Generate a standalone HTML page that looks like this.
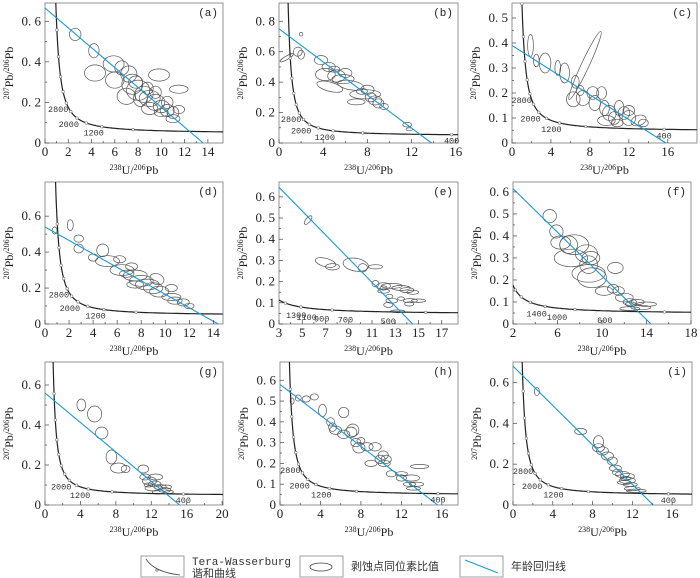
<!DOCTYPE html>
<html><head><meta charset="utf-8"><style>
body{margin:0;background:#fff}
svg{display:block;font-family:"Liberation Serif",serif}
</style></head><body>
<svg id="fig" width="700" height="578" viewBox="0 0 700 578" xmlns="http://www.w3.org/2000/svg">
<g id="panels"></g>
<g font-family="Liberation Mono, Noto Sans CJK SC, monospace" font-size="11" fill="#333">
  <g>
    <rect x="141" y="556" width="43" height="21" fill="none" stroke="#888" stroke-width="0.8"/>
    <path d="M146 559 Q154 572 180 575" fill="none" stroke="#444" stroke-width="0.8"/>
    <circle cx="157" cy="570" r="1.2" fill="none" stroke="#444" stroke-width="0.6"/>
    <text x="192" y="565">Tera-Wasserburg</text>
    <text x="192" y="577" font-family="Noto Sans CJK SC, sans-serif">谐和曲线</text>
  </g>
  <g>
    <rect x="300" y="556" width="43" height="21" fill="none" stroke="#888" stroke-width="0.8"/>
    <ellipse cx="321" cy="567" rx="11" ry="4" fill="none" stroke="#444" stroke-width="0.8"/>
    <text x="351" y="570" font-family="Noto Sans CJK SC, sans-serif">剥蚀点同位素比值</text>
  </g>
  <g>
    <rect x="460" y="556" width="43" height="21" fill="none" stroke="#888" stroke-width="0.8"/>
    <line x1="465" y1="560" x2="498" y2="573" stroke="#1a9ad6" stroke-width="1"/>
    <text x="511" y="570" font-family="Noto Sans CJK SC, sans-serif">年龄回归线</text>
  </g>
</g>
</svg>
<script>
// ---------- data ----------
const ellA=[[2.6,0.535,0.5,0.03,0],[4.2,0.455,0.45,0.035,0],[4.3,0.345,0.9,0.04,0],[5.9,0.39,0.9,0.04,0],[6,0.31,0.8,0.04,0],[6.6,0.37,0.6,0.035,0],[7.2,0.34,0.7,0.04,0],[7.5,0.29,0.9,0.05,0],[8,0.26,1,0.05,0],[8.5,0.24,0.8,0.04,0],[9,0.22,0.9,0.04,0],[9.5,0.2,0.8,0.04,0],[10,0.18,0.7,0.03,0],[10.5,0.16,0.6,0.03,0],[11,0.15,0.5,0.03,0],[11,0.12,0.6,0.02,0],[9.8,0.335,0.9,0.03,0],[11.5,0.265,0.8,0.02,0],[7,0.23,0.8,0.04,0],[8.2,0.22,0.6,0.04,0],[9,0.17,0.7,0.03,0],[10.5,0.2,0.5,0.03,0],[8.8,0.27,0.5,0.03,0],[11.5,0.165,0.5,0.02,0],[7.8,0.3,0.6,0.03,0],[9.5,0.25,0.5,0.03,0],[10,0.15,0.6,0.02,0]];
const ellB=[[0.7,0.56,0.15,0.05,60],[2.0,0.715,0.15,0.012,0],[1.7,0.6,0.4,0.03,30],[2,0.58,0.3,0.03,0],[3.8,0.545,0.6,0.03,0],[4.5,0.5,0.6,0.03,0],[4.2,0.45,0.9,0.04,0],[4.6,0.37,1.2,0.03,15],[5.2,0.44,0.8,0.04,0],[5.8,0.42,1,0.03,0],[6,0.46,0.6,0.03,0],[6.5,0.38,1.2,0.03,10],[7.8,0.32,1.4,0.03,0],[7,0.27,0.8,0.02,0],[8,0.35,0.6,0.03,0],[8.3,0.3,0.5,0.03,0],[8.7,0.28,0.6,0.03,0],[9,0.26,0.5,0.03,0],[9.5,0.24,0.4,0.02,0],[7.5,0.34,0.5,0.02,0],[11.6,0.12,0.4,0.015,0],[11.8,0.09,0.3,0.01,0],[5,0.485,0.5,0.02,0]];
const ellC=[[1.9,0.39,0.3,0.045,0],[2.5,0.33,0.3,0.025,0],[3.4,0.32,0.6,0.04,0],[4.7,0.3,0.3,0.03,0],[5.4,0.28,0.5,0.04,0],[6.5,0.245,0.4,0.025,0],[7.5,0.31,0.4,0.15,25],[6.3,0.175,0.7,0.03,0],[7.3,0.18,0.7,0.03,0],[8.3,0.2,0.6,0.025,0],[9.2,0.2,0.5,0.025,0],[8.5,0.16,0.6,0.03,0],[9.5,0.14,0.5,0.03,0],[10,0.12,0.7,0.03,0],[10.5,0.1,0.6,0.025,0],[11,0.14,0.5,0.03,0],[11.5,0.12,0.6,0.025,0],[12,0.1,0.7,0.03,0],[13,0.09,0.8,0.02,-20],[13.5,0.08,0.5,0.015,0],[9.7,0.09,0.9,0.02,0],[12,0.13,0.6,0.02,0],[7,0.21,0.4,0.02,0],[10.8,0.08,0.6,0.015,0]];
const ellD=[[0.8,0.52,0.2,0.02,0],[2.1,0.55,0.25,0.03,0],[2.8,0.475,0.4,0.02,0],[2.8,0.42,0.4,0.025,0],[4,0.37,0.4,0.02,0],[4.8,0.41,0.5,0.035,0],[5.2,0.35,1,0.03,0],[6.2,0.36,0.5,0.02,0],[6.4,0.3,1,0.03,0],[7.2,0.32,0.5,0.02,0],[7.5,0.27,1,0.03,0],[8,0.24,1,0.03,0],[8.5,0.22,1,0.03,0],[9,0.2,0.8,0.03,0],[9.5,0.18,0.8,0.03,0],[10.5,0.2,0.5,0.02,0],[10.5,0.15,0.8,0.02,0],[11.5,0.12,0.5,0.02,0],[12,0.1,0.4,0.015,0],[9.3,0.25,0.6,0.03,20],[7.5,0.22,0.7,0.02,0],[6.8,0.28,0.6,0.02,0],[10.8,0.13,0.6,0.02,0]];
const ellE=[[5.5,0.49,0.2,0.025,40],[7,0.29,0.9,0.02,15],[7.6,0.27,0.6,0.015,0],[9.6,0.28,1.1,0.03,10],[10.2,0.265,0.4,0.02,0],[11.3,0.27,0.6,0.01,0],[11.3,0.19,0.3,0.015,0],[12,0.18,0.6,0.015,0],[12.7,0.18,0.9,0.012,0],[13.5,0.17,0.8,0.012,0],[14,0.16,0.6,0.012,0],[12,0.155,0.5,0.01,0],[12.5,0.13,0.3,0.01,0],[12.7,0.11,0.5,0.012,0],[12.4,0.09,0.4,0.012,0],[13.5,0.12,0.3,0.008,0],[14.3,0.11,0.6,0.01,0],[15,0.11,0.6,0.008,0],[14.2,0.095,0.4,0.01,0],[13.2,0.06,0.6,0.006,0],[12,0.17,0.3,0.01,0],[14.5,0.15,0.5,0.01,0]];
const ellF=[[5.3,0.49,0.6,0.03,0],[5.9,0.42,0.6,0.03,0],[6.3,0.37,0.9,0.03,0],[7,0.36,0.8,0.04,0],[7.5,0.36,1.3,0.045,0],[7.2,0.3,1.5,0.04,0],[8.6,0.32,1,0.04,0],[9,0.3,0.8,0.03,0],[8.8,0.27,0.8,0.04,0],[8.8,0.23,1.5,0.04,0],[9.1,0.21,1.3,0.045,0],[11.2,0.255,0.7,0.025,0],[10.2,0.15,0.8,0.02,0],[11,0.16,0.5,0.02,0],[11.5,0.15,0.5,0.02,0],[12,0.12,0.8,0.02,0],[12.5,0.1,0.6,0.015,0],[13.2,0.1,0.6,0.012,0],[14,0.09,0.9,0.01,0],[13.5,0.075,0.9,0.01,0],[12.5,0.07,0.9,0.008,0],[12.6,0.09,0.5,0.01,0]];
const ellG=[[4.1,0.5,0.5,0.03,0],[5.6,0.455,0.8,0.04,0],[6.4,0.36,0.7,0.03,0],[7.5,0.24,0.6,0.035,0],[8.3,0.185,0.9,0.025,0],[9.1,0.18,0.5,0.018,0],[11.1,0.18,0.6,0.02,0],[11.3,0.14,0.6,0.015,0],[11.8,0.12,0.8,0.02,0],[12.5,0.14,0.8,0.015,0],[12.4,0.105,0.7,0.015,0],[12.3,0.085,1,0.015,0],[13,0.09,0.7,0.012,0],[13.5,0.075,0.7,0.012,0],[13.7,0.09,0.6,0.01,0],[12.8,0.065,0.7,0.01,0],[14,0.065,0.5,0.008,0],[11.7,0.1,0.5,0.01,0]];
const ellH=[[1.2,0.5,0.2,0.015,0],[1.8,0.515,0.3,0.015,0],[2.6,0.51,0.4,0.015,0],[3.4,0.52,0.4,0.015,0],[4.2,0.455,0.4,0.03,0],[5,0.4,0.4,0.02,0],[5.2,0.375,0.4,0.02,0],[6.3,0.445,0.5,0.025,0],[5.5,0.36,0.6,0.02,0],[6.3,0.34,0.6,0.02,0],[7.2,0.36,0.6,0.03,0],[7,0.35,0.6,0.025,0],[7.5,0.3,0.5,0.02,0],[8,0.31,0.4,0.015,0],[7.8,0.275,0.6,0.025,0],[8.6,0.28,0.6,0.02,0],[9.4,0.28,0.6,0.02,0],[9,0.2,0.6,0.015,0],[9.9,0.22,0.5,0.02,0],[10.5,0.22,0.5,0.02,0],[10.3,0.2,0.6,0.015,0],[11,0.15,0.5,0.015,0],[12,0.15,0.6,0.01,0],[12,0.13,0.5,0.015,0],[13,0.13,0.8,0.015,0],[13.8,0.185,0.9,0.01,0],[12.8,0.1,0.6,0.01,0],[13.5,0.1,0.7,0.01,0],[13.2,0.08,0.7,0.008,0],[10.2,0.24,0.5,0.02,0]];
const ellI=[[2.4,0.555,0.25,0.02,0],[6.8,0.36,0.6,0.015,0],[8.6,0.31,0.5,0.03,0],[8.6,0.28,0.6,0.02,0],[9,0.265,0.6,0.02,0],[9.5,0.24,0.6,0.02,0],[10,0.215,0.5,0.02,0],[10.3,0.18,0.6,0.015,0],[10.5,0.16,0.5,0.015,0],[11,0.15,0.7,0.015,0],[11.5,0.14,0.7,0.015,0],[11.5,0.12,0.8,0.015,0],[11.2,0.11,0.7,0.01,0],[11.8,0.1,0.7,0.01,0],[12,0.08,0.8,0.01,0],[12.4,0.07,1,0.008,0],[11.3,0.13,0.5,0.01,0]];
const regA=[[0,0.665],[13.6,0]], regB=[[0,0.75],[13.8,0]], regC=[[0,0.39],[15.8,0]];
const regD=[[0,0.54],[14.4,0]], regE=[[3,0.645],[14.5,0]], regF=[[2,0.615],[14.4,0]];
const regG=[[0,0.56],[15.2,0]], regH=[[0,0.58],[15.6,0]], regI=[[0,0.68],[14.1,0]];
const xTicksA=[0,2,4,6,8,10,12,14], xTicksB=[0,4,8,12,16], xTicksD=[0,2,4,6,8,10,12,14];
const xTicksE=[3,5,7,9,11,13,15,17], xTicksF=[2,6,10,14,18], xTicksG=[0,4,8,12,16,20];
const yTicksA=[0,0.2,0.4,0.6], yTicksB=[0,0.2,0.4,0.6,0.8], yTicksC=[0,0.1,0.2,0.3,0.4,0.5], yTicksE=[0,0.1,0.2,0.3,0.4,0.5,0.6];
const agesA=[2800,2000,1200], agesB=[2800,2000,1200,400], agesE=[1300,1100,900,700,500], agesF=[1400,1000,600], agesG=[2000,1200,400];

// ---------- layout ----------
const panels=[
 {id:'a',l:45,r:223,t:3,b:143,x0:0,x1:15.3,y1:0.69,xt:xTicksA,yt:yTicksA,e:ellA,reg:regA,ages:agesA},
 {id:'b',l:279,r:458,t:3,b:143,x0:0,x1:16.2,y1:0.92,xt:xTicksB,yt:yTicksB,e:ellB,reg:regB,ages:agesB},
 {id:'c',l:512,r:697,t:3,b:143,x0:0,x1:19,y1:0.56,xt:xTicksB,yt:yTicksC,e:ellC,reg:regC,ages:agesB},
 {id:'d',l:45,r:223,t:182,b:324,x0:0,x1:14.8,y1:0.79,xt:xTicksD,yt:yTicksA,e:ellD,reg:regD,ages:agesA},
 {id:'e',l:279,r:458,t:182,b:324,x0:3,x1:18.4,y1:0.67,xt:xTicksE,yt:yTicksE,e:ellE,reg:regE,ages:agesE},
 {id:'f',l:513,r:691,t:182,b:324,x0:2,x1:18,y1:0.645,xt:xTicksF,yt:yTicksE,e:ellF,reg:regF,ages:agesF},
 {id:'g',l:45,r:223,t:362,b:505,x0:0,x1:20.1,y1:0.715,xt:xTicksG,yt:yTicksA,e:ellG,reg:regG,ages:agesG},
 {id:'h',l:280,r:458,t:362,b:505,x0:0,x1:17.6,y1:0.688,xt:xTicksB,yt:yTicksE,e:ellH,reg:regH,ages:agesB},
 {id:'i',l:513,r:692,t:362,b:505,x0:0,x1:18,y1:0.70,xt:xTicksB,yt:yTicksA,e:ellI,reg:regI,ages:agesB}
];
const NS='http://www.w3.org/2000/svg';
function mk(tag,attrs,parent){const el=document.createElementNS(NS,tag);for(const k in attrs)el.setAttribute(k,attrs[k]);parent.appendChild(el);return el;}
function tw(t){const l8=0.155125e-3,l5=0.98485e-3;const a=Math.exp(l8*t)-1,b=Math.exp(l5*t)-1;return [1/a,b/a/137.88];}
function fmtY(v){return v===0?'0':v.toFixed(1).replace('.','. ');}
const root=document.getElementById('panels');
panels.forEach(p=>{
  const X=v=>p.l+(v-p.x0)/(p.x1-p.x0)*(p.r-p.l);
  const Y=v=>p.b-v/p.y1*(p.b-p.t);
  const g=mk('g',{},root);
  
  
  const cp=mk('clipPath',{id:'clip'+p.id},g);
  mk('rect',{x:p.l,y:p.t,width:p.r-p.l,height:p.b-p.t},cp);
  const frame=mk('rect',{x:p.l,y:p.t,width:p.r-p.l,height:p.b-p.t,fill:'none',stroke:'#888','stroke-width':0.9},g);
  
  
  const inner=mk('g',{'clip-path':'url(#clip'+p.id+')'},g);
  p.e.forEach(d=>{
    const cx=X(d[0]),cy=Y(d[1]);
    const rx=Math.abs(X(d[0]+d[2])-cx),ry=Math.abs(Y(d[1]+d[3])-cy);
    const el=mk('ellipse',{cx:cx.toFixed(1),cy:cy.toFixed(1),rx:rx.toFixed(1),ry:ry.toFixed(1),transform:'rotate('+d[4]+' '+cx.toFixed(1)+' '+cy.toFixed(1)+')',fill:'none',stroke:'#555','stroke-width':0.7},inner);
    
    
  });
  let pts=[];
  for(let t=30;t<=6000;t+=10){const [x,y]=tw(t);if(x>p.x1+2||y>p.y1+0.3)continue;pts.push(X(x).toFixed(1)+','+Y(y).toFixed(1));}
  const cc=mk('polyline',{points:pts.join(' '),fill:'none',stroke:'#222','stroke-width':1.2},inner);
  
  
  for(let t=400;t<=4400;t+=400){const [x,y]=tw(t);mk('circle',{cx:X(x),cy:Y(y),r:1.3,fill:'#fff',stroke:'#777','stroke-width':0.6},inner);}
  const rl=mk('line',{x1:X(p.reg[0][0]),y1:Y(p.reg[0][1]),x2:X(p.reg[1][0]),y2:Y(p.reg[1][1]),stroke:'#1a9ad6','stroke-width':1.1},inner);
  
  
  p.ages.forEach(a=>{
    const [x,y]=tw(a);
    const small=(p.id==='e'||p.id==='f');
    const tx=small?X(x):(a===400?X(x):X(x)+2), ty=small?Y(y)+12:Y(y)+9;
    const lb=mk('text',{x:tx,y:ty,'font-size':8.5,'font-family':'Liberation Mono, monospace','text-anchor':(small||a===400)?'middle':'end',fill:'#333'},g);
    lb.textContent=a;
    
    
  });
  const tk=mk('g',{stroke:'#444','stroke-width':0.7},g);
  for(let i=0;i<p.xt.length;i++){
    const v=p.xt[i],px=X(v);
    mk('line',{x1:px,y1:p.b,x2:px,y2:p.b-4},tk);
    if(i<p.xt.length-1){const m=X((v+p.xt[i+1])/2);mk('line',{x1:m,y1:p.b,x2:m,y2:p.b-2},tk);}
    const tl=mk('text',{x:px,y:p.b+13,'font-size':13,'text-anchor':'middle',fill:'#222'},g);
    tl.textContent=v;
    
    
  }
  for(let i=0;i<p.yt.length;i++){
    const v=p.yt[i],py=Y(v);
    mk('line',{x1:p.l,y1:py,x2:p.l+4,y2:py},tk);
    if(i<p.yt.length-1){const m=Y((v+p.yt[i+1])/2);mk('line',{x1:p.l,y1:m,x2:p.l+2,y2:m},tk);}
    const tl=mk('text',{x:p.l-4,y:py+4,'font-size':13,'text-anchor':'end',fill:'#222'},g);
    tl.textContent=fmtY(v);
    
    
  }
  const pl=mk('text',{x:p.r-5,y:p.t+13,'font-size':11,'font-family':'Liberation Mono, monospace','text-anchor':'end',fill:'#222'},g);
  pl.textContent='('+p.id+')';
  
  
  const xt=mk('text',{x:(p.l+p.r)/2,y:p.b+31,'font-size':12,'text-anchor':'middle',fill:'#222'},g);
  xt.innerHTML='<tspan font-size="8" dy="-4">238</tspan><tspan dy="4">U/</tspan><tspan font-size="8" dy="-4">206</tspan><tspan dy="4">Pb</tspan>';
  
  
  const cy=(p.t+p.b)/2, cx=p.l-32;
  const yt=mk('text',{x:cx,y:cy,'font-size':12,'text-anchor':'middle',fill:'#222',transform:'rotate(-90 '+cx+' '+cy+')'},g);
  yt.innerHTML='<tspan font-size="8" dy="-4">207</tspan><tspan dy="4">Pb/</tspan><tspan font-size="8" dy="-4">206</tspan><tspan dy="4">Pb</tspan>';
  
  
});
</script>
</body></html>
